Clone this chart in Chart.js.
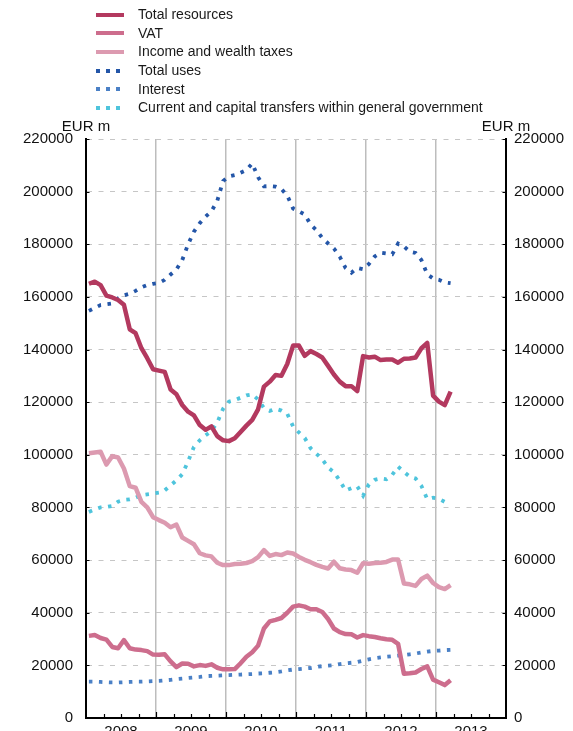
<!DOCTYPE html>
<html>
<head>
<meta charset="utf-8">
<script src="https://cdn.jsdelivr.net/npm/chart.js@4/dist/chart.umd.min.js"></script>
<style>
  html, body { margin: 0; padding: 0; background: #fff; overflow: hidden; }
  body { width: 573px; height: 731px; position: relative; font-family: "Liberation Sans", Arial, Helvetica, sans-serif; }
  #wrap { position: absolute; left: 0; top: 0; width: 573px; height: 745px; }
  #legend { position: absolute; left: 96px; top: 5px; }
  .item { position: relative; height: 18.7px; line-height: 18.7px; font-size: 14px; color: #1a1a1a; white-space: nowrap; }
  .item .sw { position: absolute; left: 0; top: 7.5px; width: 28px; height: 4px; }
  .item .tx { position: absolute; left: 42px; top: 0; }
</style>
</head>
<body>
<div id="wrap"><canvas id="c" width="573" height="745"></canvas></div>
<div id="legend"></div>
<script>
// Monthly series, January 2008 to March 2013 (EUR million, 12-month sums)
const firstYear = 2008;
const years = ['2008', '2009', '2010', '2011', '2012', '2013'];
const yTicks = { min: 0, max: 220000, step: 20000 };

const totalResources = [165000,165800,164500,160500,159800,158800,157000,147700,146200,140500,136700,132500,
  132000,131500,124800,123000,118900,116400,115000,111300,109500,110800,107100,105500,
  105200,106300,108700,111100,113300,117300,125900,127800,130300,130000,134500,141500,
  141500,137600,139400,138300,137000,133800,130500,127800,126100,126100,124200,137500,
  137000,137300,136000,136200,136200,135000,136500,136600,137000,140500,142500,122500,
  120200,118900,124000];

const vat = [31200,31500,30400,29800,27000,26500,29600,26500,26000,25800,25400,24100,
  24000,24200,21500,19300,20700,20600,19600,20100,19800,20400,19100,18500,
  18500,18600,20800,23300,25000,27500,34000,36700,37300,38000,40000,42300,
  42800,42300,41300,41300,40300,37600,34000,32600,31900,31800,30600,31500,
  31100,30800,30300,29900,29700,28200,16800,17000,17300,18600,19600,14600,
  13600,12500,14300];

const incomeWealth = [100600,100900,101200,96300,99500,99000,94800,88100,87500,82100,80000,76300,
  75200,74200,72500,73500,68600,67300,66000,62600,61800,61400,59000,58100,
  58100,58500,58600,58900,59600,61100,63800,61600,62300,61900,62900,62500,
  61200,60100,59200,58200,57400,56800,59400,56900,56400,56200,55200,58800,
  58600,58900,59000,59300,60200,60200,51100,50800,50200,52800,54100,51300,
  49700,49000,50500];

const totalUses = [154700,155800,156900,157200,157500,159500,160600,161200,162300,163600,164500,165000,
  165300,166500,168500,170400,174000,180000,184800,188000,190500,192500,196500,204000,
  205800,206300,207200,208200,210700,205500,202000,202100,201900,201000,198500,193600,
  192500,191300,187500,185400,182400,180300,178400,175300,171000,169200,171000,170500,
  172500,175400,176800,176500,176200,180300,179200,177200,176700,174000,168600,167000,
  166500,165500,165200];

const interest = [13800,13800,13700,13600,13500,13500,13600,13700,13800,13800,13900,14000,
  14100,14300,14500,14800,15000,15200,15400,15600,15900,16000,16100,16200,
  16300,16400,16500,16600,16700,16900,17000,17200,17400,17700,18100,18400,
  18600,18800,19000,19400,19700,19900,20100,20500,20800,21000,21300,21800,
  22300,22700,23000,23300,23500,23700,23900,24200,24500,24900,25200,25500,
  25600,25800,25900];

const transfers = [78300,79200,80000,80200,80600,82200,82900,83100,83700,84700,85000,85300,
  85600,86500,88400,90300,92600,97500,103000,105500,107400,109000,112300,117500,
  120200,120800,121700,122600,123000,121000,117800,116700,117500,116800,115600,110800,
  108500,106400,102500,100400,98300,95200,93400,90200,86400,87300,88000,84500,
  88800,90500,91000,90700,92400,95500,93500,91700,91000,88200,83200,83700,
  83300,82100,81800];

const seriesNames = ['Total resources', 'VAT', 'Income and wealth taxes', 'Total uses', 'Interest',
  'Current and capital transfers within general government'];

const FONT = '"Liberation Sans", Arial, Helvetica, sans-serif';
const MONTHS = years.length * 12;

// month i is drawn in the middle of its month slot
const toPoints = arr => arr.map((v, i) => ({ x: i + 0.5, y: v }));

const DOT = [3.5, 6.5];
function solid(label, data, color) {
  return { label, data: toPoints(data), borderColor: color, borderWidth: 4.5, pointRadius: 0,
           tension: 0, fill: false, borderJoinStyle: 'round', borderCapStyle: 'butt', _dotted: false };
}
function dotted(label, data, color) {
  return { label, data: toPoints(data), borderColor: color, borderWidth: 3.8, pointRadius: 0,
           tension: 0, fill: false, borderDash: DOT, borderCapStyle: 'butt', _dotted: true };
}

const datasets = [
  solid(seriesNames[0], totalResources, '#b3395f'),
  solid(seriesNames[1], vat, '#cd6d8d'),
  solid(seriesNames[2], incomeWealth, '#dc9ab0'),
  dotted(seriesNames[3], totalUses, '#2456a8'),
  dotted(seriesNames[4], interest, '#4a80c6'),
  dotted(seriesNames[5], transfers, '#4ec4dc')
];

// Inward tick marks and the unit captions above both value axes
const axisDecor = {
  id: 'axisDecor',
  afterDraw(chart) {
    const ctx = chart.ctx;
    const a = chart.chartArea;
    const xs = chart.scales.x, yl = chart.scales.y;
    ctx.save();
    ctx.strokeStyle = '#000';
    ctx.lineWidth = 1.2;
    ctx.beginPath();
    xs.ticks.forEach(t => {
      if (t.value <= 0 || t.value >= MONTHS) return;
      const px = Math.round(xs.getPixelForValue(t.value)) + 0.5;
      const len = t.value % 12 === 0 ? 6 : 4;
      ctx.moveTo(px, a.bottom);
      ctx.lineTo(px, a.bottom - len);
    });
    yl.ticks.forEach(t => {
      const py = Math.round(yl.getPixelForValue(t.value)) + 0.5;
      ctx.moveTo(a.left, py); ctx.lineTo(a.left + 3.5, py);
      ctx.moveTo(a.right, py); ctx.lineTo(a.right - 3.5, py);
    });
    ctx.stroke();
    ctx.fillStyle = '#111';
    ctx.font = '15px ' + FONT;
    ctx.textAlign = 'center';
    ctx.textBaseline = 'middle';
    ctx.fillText('EUR m', a.left, a.top - 12);
    ctx.fillText('EUR m', a.right, a.top - 12);
    ctx.restore();
  }
};

const tickFont = { family: FONT, size: 15 };
const plainNumber = v => String(v);

const chart = new Chart(document.getElementById('c'), {
  type: 'line',
  data: { datasets },
  plugins: [axisDecor],
  options: {
    responsive: false,
    maintainAspectRatio: false,
    animation: false,
    events: [],
    layout: { padding: { top: 139, left: 0, right: 0, bottom: 0 } },
    plugins: { legend: { display: false }, tooltip: { enabled: false } },
    scales: {
      x: {
        type: 'linear',
        min: 0,
        max: MONTHS,
        afterBuildTicks(scale) {
          const t = [];
          for (let v = 0; v <= MONTHS; v += 3) t.push({ value: v });
          scale.ticks = t;
        },
        afterFit(scale) { scale.height = 27; },
        grid: {
          drawTicks: false,
          lineWidth: 1.5,
          color: ctx => {
            const v = ctx.tick ? ctx.tick.value : 0;
            return (v % 12 === 0 && v > 0 && v < MONTHS) ? '#bdbdbd' : 'rgba(0,0,0,0)';
          }
        },
        border: { color: '#000', width: 2 },
        ticks: {
          autoSkip: false,
          maxRotation: 0,
          padding: 5,
          color: '#111',
          font: tickFont,
          callback: v => (v % 12 === 6 ? years[(v - 6) / 12] : '')
        }
      },
      y: {
        position: 'left',
        min: yTicks.min,
        max: yTicks.max,
        afterFit(scale) { scale.width = 86; },
        grid: { drawTicks: false, color: '#c6c6c6', lineWidth: 1 },
        border: { color: '#000', width: 2, dash: [5, 6.5] },
        ticks: { stepSize: yTicks.step, padding: 13, color: '#111', font: tickFont, callback: plainNumber }
      },
      y2: {
        position: 'right',
        min: yTicks.min,
        max: yTicks.max,
        afterFit(scale) { scale.width = 67; },
        grid: { drawOnChartArea: false, drawTicks: false },
        border: { color: '#000', width: 2 },
        ticks: { stepSize: yTicks.step, padding: 8, color: '#111', font: tickFont, callback: plainNumber }
      }
    }
  }
});

// Legend list built from the chart's datasets
const legend = document.getElementById('legend');
chart.data.datasets.forEach(ds => {
  const row = document.createElement('div');
  row.className = 'item';
  const sw = document.createElement('span');
  sw.className = 'sw';
  if (ds._dotted) {
    sw.style.background = `repeating-linear-gradient(to right, ${ds.borderColor} 0 4px, transparent 4px 10px)`;
  } else {
    sw.style.background = ds.borderColor;
  }
  const tx = document.createElement('span');
  tx.className = 'tx';
  tx.textContent = ds.label;
  row.appendChild(sw);
  row.appendChild(tx);
  legend.appendChild(row);
});
</script>
</body>
</html>
